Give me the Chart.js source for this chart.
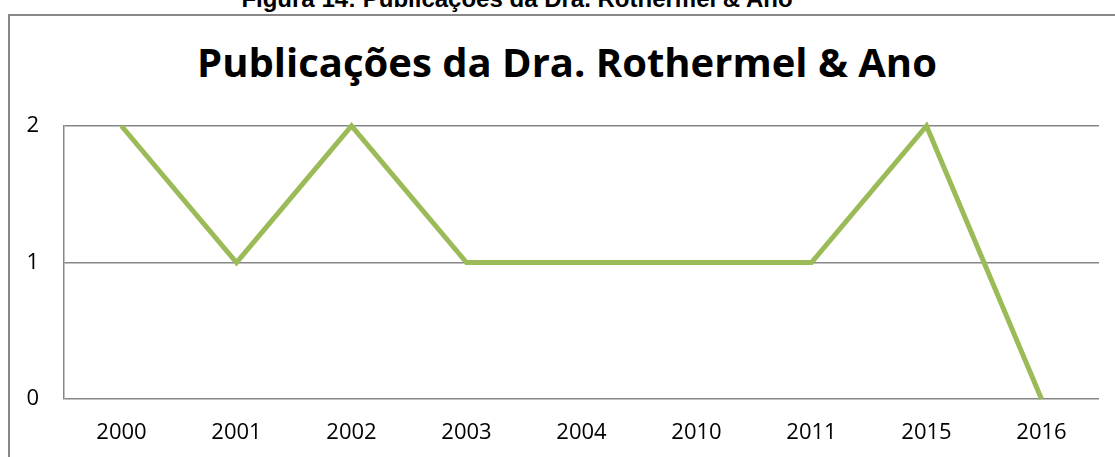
<!DOCTYPE html>
<html>
<head>
<meta charset="utf-8">
<title>Publicações da Dra. Rothermel & Ano</title>
<script src="https://cdn.jsdelivr.net/npm/chart.js@4/dist/chart.umd.min.js"></script>
<style>
    html, body { margin: 0; padding: 0; background: #fff; overflow: hidden; }
    #wrap { position: relative; width: 1115px; height: 457px; }
    #caption {
        position: absolute; left: 0; width: 1034px; top: -13px;
        text-align: center; font: bold 24px "Liberation Sans", Arial, sans-serif;
        line-height: 24px; color: #000; white-space: nowrap;
    }
    #frame {
        position: absolute; left: 8px; top: 14px; width: 1200px; height: 600px;
        border-left: 2px solid #888; border-top: 2px solid #888;
    }
    #title {
        position: absolute; left: 0; width: 1134px; top: 42px;
        text-align: center; font: bold 40px "Open Sans", sans-serif;
        line-height: 40px; color: #000; white-space: nowrap;
    }
    #chart { position: absolute; left: 0; top: 0; }
</style>
</head>
<body>
<div id="wrap">
    <div id="caption">Figura 14: Publicações da Dra. Rothermel &amp; Ano</div>
    <div id="frame"></div>
    <div id="title"></div>
    <canvas id="chart" width="1115" height="457"></canvas>
</div>
<script>
// --- DATA ---
const years = ["2000", "2001", "2002", "2003", "2004", "2010", "2011", "2015", "2016"];
const publications = [2, 1, 2, 1, 1, 1, 1, 2, 0];
const yTicks = [0, 1, 2];

const chartTitle = "Publicações da Dra. Rothermel & Ano";
const axisFont = { family: "'Open Sans', sans-serif", size: 22 };

// title sits centred on the outer frame, not the canvas, so it is placed by css
document.getElementById("title").innerText = chartTitle;

// --- CHART ---
new Chart(document.getElementById("chart"), {
    type: 'line',
    data: {
        labels: years,
        datasets: [{
            label: 'Publicações',
            data: publications,
            borderColor: '#9BBB59',
            borderWidth: 5,
            pointRadius: 0,
            tension: 0,
            clip: false
        }]
    },
    options: {
        responsive: false,
        animation: false,
        layout: { padding: { left: 0, right: 16, top: 126, bottom: 0 } },
        plugins: {
            legend: { display: false },
            tooltip: { enabled: false },
            title: { display: false }
        },
        scales: {
            x: {
                offset: true,
                grid: { display: false, drawTicks: false },
                border: { display: false },
                ticks: { color: '#000', font: axisFont, padding: 21 },
                afterFit: (scale) => { scale.height = 58; }
            },
            y: {
                min: 0,
                max: 2,
                afterBuildTicks: (scale) => { scale.ticks = yTicks.map(v => ({ value: v })); },
                grid: { color: '#868686', lineWidth: 1.5, drawTicks: false },
                border: { display: true, color: '#868686', width: 1.5 },
                ticks: { color: '#000', font: axisFont, padding: 25 },
                afterFit: (scale) => { scale.width = 64; }
            }
        }
    }
});
</script>
</body>
</html>
